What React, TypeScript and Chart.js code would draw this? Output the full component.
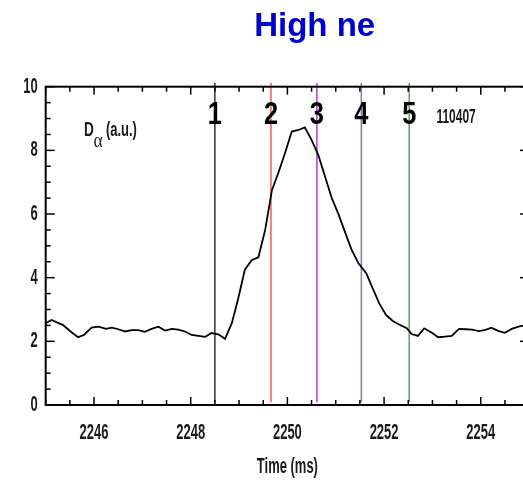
import React, { useEffect, useRef } from 'react';
import { Chart, registerables } from 'chart.js';

Chart.register(...registerables);

// ---- data ----
const TIME_MS = [
  2245.0, 2245.12, 2245.36, 2245.52, 2245.67, 2245.79, 2245.95, 2246.09, 2246.25, 2246.37,
  2246.5, 2246.64, 2246.78, 2246.92, 2247.05, 2247.19, 2247.33, 2247.47, 2247.61, 2247.74,
  2247.88, 2248.02, 2248.16, 2248.3, 2248.43, 2248.57, 2248.71, 2248.85, 2248.98, 2249.12,
  2249.26, 2249.4, 2249.54, 2249.68, 2249.81, 2249.95, 2250.09, 2250.23, 2250.36, 2250.5,
  2250.64, 2250.78, 2250.92, 2251.05, 2251.19, 2251.33, 2251.47, 2251.63, 2251.78, 2251.9,
  2252.04, 2252.18, 2252.31, 2252.47, 2252.57, 2252.7, 2252.83, 2252.99, 2253.12, 2253.26,
  2253.4, 2253.55, 2253.69, 2253.82, 2253.96, 2254.1, 2254.22, 2254.36, 2254.5, 2254.64,
  2254.78, 2254.9, 2255.0,
];
const D_ALPHA = [
  2.57, 2.67, 2.51, 2.3, 2.13, 2.2, 2.43, 2.46, 2.39, 2.43,
  2.38, 2.31, 2.35, 2.35, 2.3, 2.39, 2.46, 2.34, 2.39, 2.37,
  2.31, 2.2, 2.17, 2.14, 2.26, 2.22, 2.08, 2.57, 3.33, 4.25,
  4.55, 4.64, 5.5, 6.75, 7.28, 7.91, 8.59, 8.64, 8.72, 8.33,
  7.85, 7.17, 6.49, 6.02, 5.44, 4.87, 4.45, 4.14, 3.61, 3.19,
  2.83, 2.64, 2.53, 2.41, 2.23, 2.17, 2.41, 2.27, 2.13, 2.15,
  2.17, 2.39, 2.38, 2.37, 2.32, 2.36, 2.43, 2.33, 2.27, 2.39,
  2.46, 2.5, 2.52,
];
const MARKER_TIMES = [2248.5, 2249.66, 2250.61, 2251.53, 2252.52];
const MARKER_LABELS = ['1', '2', '3', '4', '5'];
const MARKER_COLORS = ['#000000', '#ef5a5a', '#b23cc4', '#8474c4', '#4cae4c'];
const MARKER_SPAN = [0.09, 10.12];
const X_TICKS = [2246, 2248, 2250, 2252, 2254];
const Y_TICKS = [0, 2, 4, 6, 8, 10];
const X_RANGE = [2245, 2255];
const Y_RANGE = [0, 10];
const TITLE = 'High ne';
const SHOT = '110407';
const X_TITLE = 'Time (ms)';
const Y_LABEL_MAIN = 'D';
const Y_LABEL_SUB = 'α';
const Y_LABEL_UNIT = '(a.u.)';
// annotation anchors in data units
const MARKER_LABEL_Y = 8.84;
const SHOT_POS = [2253.49, 8.85];
const YLABEL_POS = [2245.79, 8.46];

const FONT = "'Liberation Sans', Arial, Helvetica, sans-serif";
const AXIS_SX = 0.59;
const origFill = CanvasRenderingContext2D.prototype.fillText;

function drawText(ctx: CanvasRenderingContext2D, text: string, x: number, y: number, sx: number) {
  ctx.save();
  ctx.translate(x, y);
  ctx.scale(sx, 1);
  origFill.call(ctx, text, 0, 0);
  ctx.restore();
}

const framePlugin = {
  id: 'frame',
  beforeDraw(chart: any) {
    const ctx = chart.ctx as any;
    if (!ctx.__narrow) {
      ctx.__narrow = true;
      ctx.fillText = function (text: string, x: number, y: number) {
        drawText(this, text, x, y, AXIS_SX);
      };
    }
  },
  afterDraw(chart: any) {
    const { ctx, chartArea: a, scales } = chart;
    const xs = scales.x;
    const ys = scales.y;
    ctx.save();
    // frame
    ctx.strokeStyle = '#000';
    ctx.lineWidth = 2;
    ctx.strokeRect(a.left, a.top, a.right - a.left, a.bottom - a.top);
    // inward ticks
    ctx.lineWidth = 1.5;
    const seg = (x1: number, y1: number, x2: number, y2: number) => {
      ctx.beginPath();
      ctx.moveTo(x1, y1);
      ctx.lineTo(x2, y2);
      ctx.stroke();
    };
    for (let v = X_RANGE[0]; v <= X_RANGE[1] + 1e-9; v += 0.5) {
      const px = xs.getPixelForValue(v);
      const major = Math.abs(v / 2 - Math.round(v / 2)) < 1e-6;
      const L = major ? 8 : 5;
      seg(px, a.bottom, px, a.bottom - L);
      seg(px, a.top, px, a.top + L);
    }
    for (let v = Y_RANGE[0]; v <= Y_RANGE[1] + 1e-9; v += 0.5) {
      const py = ys.getPixelForValue(v);
      const major = Math.abs(v / 2 - Math.round(v / 2)) < 1e-6;
      const L = major ? 9 : 5;
      seg(a.left, py, a.left + L, py);
      seg(a.right, py, a.right - L, py);
    }
    // title
    ctx.fillStyle = '#0000cc';
    ctx.font = `bold 33px ${FONT}`;
    ctx.textAlign = 'center';
    ctx.textBaseline = 'alphabetic';
    drawText(ctx, TITLE, 314.7, 35.7, 1);
    // marker numbers
    ctx.fillStyle = '#000';
    ctx.font = `bold 31px ${FONT}`;
    const ly = ys.getPixelForValue(MARKER_LABEL_Y);
    MARKER_TIMES.forEach((t, i) => {
      drawText(ctx, MARKER_LABELS[i], xs.getPixelForValue(t), ly, 0.82);
    });
    // shot number
    ctx.fillStyle = '#1a1a1a';
    ctx.font = `bold 21px ${FONT}`;
    drawText(ctx, SHOT, xs.getPixelForValue(SHOT_POS[0]), ys.getPixelForValue(SHOT_POS[1]), 0.57);
    // D_alpha (a.u.)
    ctx.textAlign = 'left';
    const dx = xs.getPixelForValue(YLABEL_POS[0]);
    const dy = ys.getPixelForValue(YLABEL_POS[1]);
    ctx.font = `bold 20px ${FONT}`;
    drawText(ctx, Y_LABEL_MAIN, dx, dy, 0.68);
    drawText(ctx, Y_LABEL_UNIT, dx + 22, dy, 0.65);
    ctx.font = `22px 'Liberation Serif', 'DejaVu Serif', serif`;
    drawText(ctx, Y_LABEL_SUB, dx + 9.5, dy + 11, 0.8);
    ctx.restore();
  },
};

export default function App() {
  const ref = useRef<HTMLCanvasElement>(null);
  useEffect(() => {
    const canvas = ref.current!;
    const tickFont = { family: FONT, weight: 'bold' as const, size: 22 };
    const datasets: any[] = [
      {
        label: 'D alpha',
        data: TIME_MS.map((t, i) => ({ x: t, y: D_ALPHA[i] })),
        borderColor: '#000',
        borderWidth: 1.8,
        pointRadius: 0,
        tension: 0,
        fill: false,
      },
      ...MARKER_TIMES.map((t, i) => ({
        label: 'marker ' + MARKER_LABELS[i],
        data: [
          { x: t, y: MARKER_SPAN[0] },
          { x: t, y: MARKER_SPAN[1] },
        ],
        borderColor: MARKER_COLORS[i],
        borderWidth: i === 0 ? 1.2 : 1.5,
        pointRadius: 0,
        fill: false,
        clip: false,
      })),
    ];
    const chart = new Chart(canvas, {
      type: 'line',
      data: { datasets },
      plugins: [framePlugin],
      options: {
        animation: false,
        responsive: false,
        devicePixelRatio: 1,
        layout: { padding: { top: 86.7, right: 0.9, left: 0, bottom: 0 } },
        plugins: { legend: { display: false }, tooltip: { enabled: false }, title: { display: false } },
        scales: {
          x: {
            type: 'linear',
            min: X_RANGE[0],
            max: X_RANGE[1],
            grid: { display: false, drawTicks: false },
            border: { display: false },
            afterBuildTicks: (s: any) => {
              s.ticks = X_TICKS.map((v) => ({ value: v }));
            },
            afterFit: (s: any) => {
              s.height = 81;
            },
            ticks: {
              autoSkip: false,
              maxRotation: 0,
              padding: 14.8,
              color: '#1a1a1a',
              font: tickFont,
              callback: (v: any) => String(v),
            },
            title: {
              display: true,
              text: X_TITLE,
              color: '#1a1a1a',
              font: tickFont,
              padding: { top: 0, bottom: 6.3 },
            },
          },
          y: {
            type: 'linear',
            min: Y_RANGE[0],
            max: Y_RANGE[1],
            grid: { display: false, drawTicks: false },
            border: { display: false },
            afterBuildTicks: (s: any) => {
              s.ticks = Y_TICKS.map((v) => ({ value: v }));
            },
            afterFit: (s: any) => {
              s.width = 45.7;
            },
            ticks: {
              padding: 8,
              color: '#1a1a1a',
              font: tickFont,
              callback: (v: any) => String(v),
            },
          },
        },
      } as any,
    });
    return () => chart.destroy();
  }, []);
  return (
    <div style={{ position: 'fixed', left: 0, top: 0, width: 530, height: 486, background: '#fff' }}>
      <canvas ref={ref} width={530} height={486} style={{ display: 'block' }} />
    </div>
  );
}
